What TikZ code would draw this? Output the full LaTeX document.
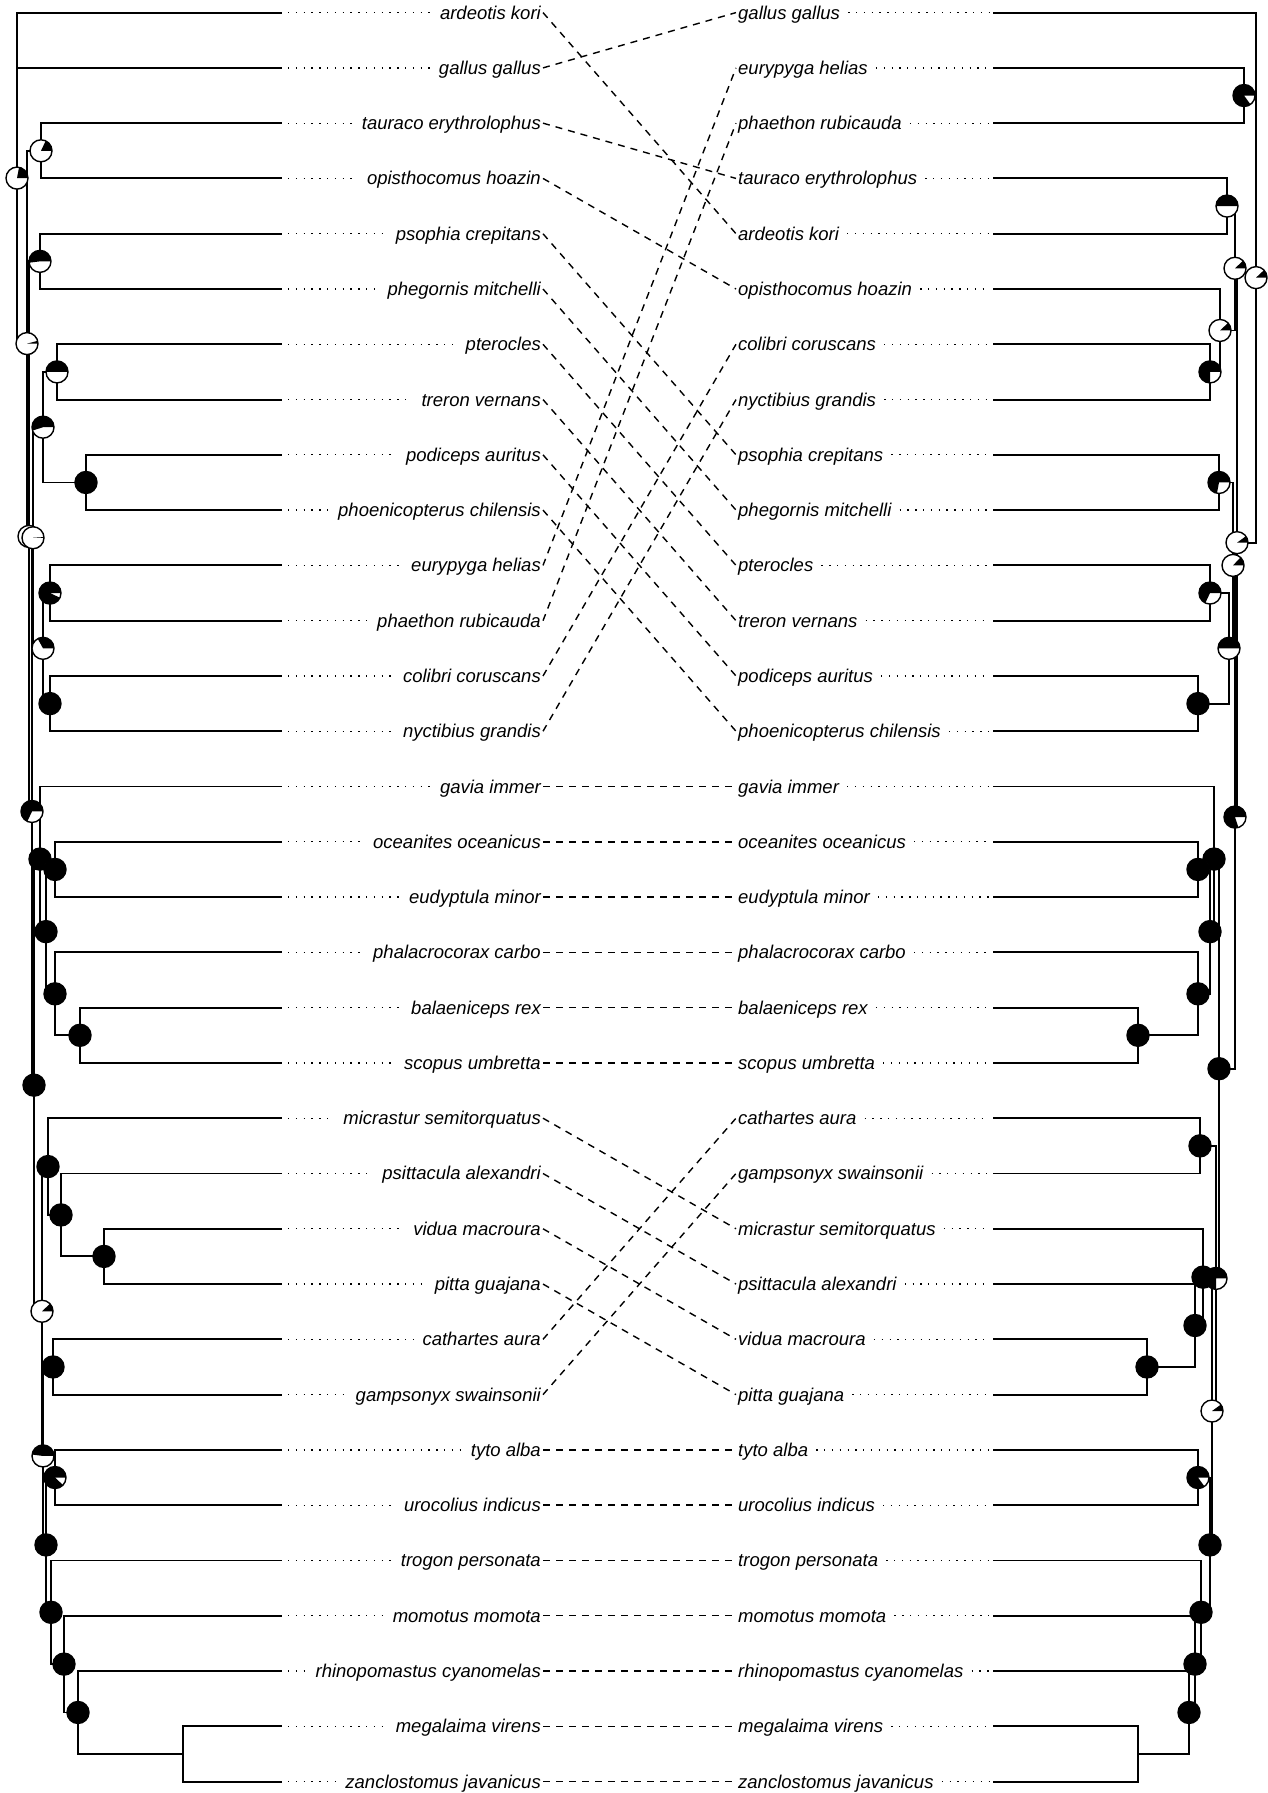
\documentclass[tikz,border=0pt]{standalone}
\usepackage{fontspec}
\setmainfont{Liberation Sans}

% pie at a tree node: black share first, counter-clockwise from east
\newcommand{\pierad}{11pt}
\newcommand{\nodepie}[2]{%
  \fill[white] (#1) circle[radius=\pierad];
  \fill[black] (#1) -- ++(0:\pierad)
    arc[start angle=0, delta angle={360*#2}, radius=\pierad] -- cycle;
  \draw[line width=1.4pt] (#1) circle[radius=\pierad];
}

\begin{document}
\begin{tikzpicture}[x=1pt, y=-1pt,
  branch/.style={line width=1.9pt},
  leader/.style={line width=1.3pt, dash pattern=on 1.3pt off 6.5pt},
  link/.style={line width=1.4pt, dash pattern=on 7pt off 6pt},
  taxon/.style={font=\fontsize{18.5}{20}\selectfont\itshape,
    inner sep=0pt, text height=13pt, text depth=0pt}]

\useasboundingbox (0,0) rectangle (1267,1793);

% ================================================================
% LEFT LEAVES AND LABELS
% ================================================================
\foreach \key/\name [count=\i from 0] in {
  ardeotis/ardeotis kori, gallus/gallus gallus,
  tauraco/tauraco erythrolophus, opisth/opisthocomus hoazin,
  psophia/psophia crepitans, phegornis/phegornis mitchelli,
  pterocles/pterocles, treron/treron vernans,
  podiceps/podiceps auritus, phoenico/phoenicopterus chilensis,
  eurypyga/eurypyga helias, phaethon/phaethon rubicauda,
  colibri/colibri coruscans, nyctibius/nyctibius grandis,
  gavia/gavia immer, oceanites/oceanites oceanicus,
  eudyptula/eudyptula minor, phalacro/phalacrocorax carbo,
  balaeni/balaeniceps rex, scopus/scopus umbretta,
  micrastur/micrastur semitorquatus, psittacula/psittacula alexandri,
  vidua/vidua macroura, pitta/pitta guajana,
  cathartes/cathartes aura, gampsonyx/gampsonyx swainsonii,
  tyto/tyto alba, urocolius/urocolius indicus,
  trogon/trogon personata, momotus/momotus momota,
  rhinopom/rhinopomastus cyanomelas, megalaima/megalaima virens,
  zanclost/zanclostomus javanicus}{
  \coordinate (l-\key) at (282,{12.6+55.28*\i});
  \node[taxon, anchor=east] (lt-\key) at (541,{12.6+55.28*\i}) {\name};
  \draw[leader] ([xshift=6pt]l-\key) -- ([xshift=-9pt]lt-\key.west);
}

% ================================================================
% RIGHT LEAVES AND LABELS
% ================================================================
\foreach \key/\name [count=\i from 0] in {
  gallus/gallus gallus, eurypyga/eurypyga helias,
  phaethon/phaethon rubicauda, tauraco/tauraco erythrolophus,
  ardeotis/ardeotis kori, opisth/opisthocomus hoazin,
  colibri/colibri coruscans, nyctibius/nyctibius grandis,
  psophia/psophia crepitans, phegornis/phegornis mitchelli,
  pterocles/pterocles, treron/treron vernans,
  podiceps/podiceps auritus, phoenico/phoenicopterus chilensis,
  gavia/gavia immer, oceanites/oceanites oceanicus,
  eudyptula/eudyptula minor, phalacro/phalacrocorax carbo,
  balaeni/balaeniceps rex, scopus/scopus umbretta,
  cathartes/cathartes aura, gampsonyx/gampsonyx swainsonii,
  micrastur/micrastur semitorquatus, psittacula/psittacula alexandri,
  vidua/vidua macroura, pitta/pitta guajana,
  tyto/tyto alba, urocolius/urocolius indicus,
  trogon/trogon personata, momotus/momotus momota,
  rhinopom/rhinopomastus cyanomelas, megalaima/megalaima virens,
  zanclost/zanclostomus javanicus}{
  \coordinate (r-\key) at (993,{12.6+55.28*\i});
  \node[taxon, anchor=west] (rt-\key) at (738,{12.6+55.28*\i}) {\name};
  \draw[leader] ([xshift=8pt]rt-\key.east) -- ([xshift=-4pt]r-\key);
}

% ================================================================
% CONNECTING LINES (same taxon on both sides)
% ================================================================
\foreach \key in {ardeotis, gallus, tauraco, opisth, psophia, phegornis,
  pterocles, treron, podiceps, phoenico, eurypyga, phaethon, colibri,
  nyctibius, gavia, oceanites, eudyptula, phalacro, balaeni, scopus,
  micrastur, psittacula, vidua, pitta, cathartes, gampsonyx, tyto,
  urocolius, trogon, momotus, rhinopom, megalaima, zanclost}
  \draw[link] ([xshift=2pt]lt-\key.east) -- ([xshift=-2pt]rt-\key.west);

% ================================================================
% LEFT TREE
% ================================================================
\coordinate (root-L)    at (17,178.1);
\coordinate (core-L)    at (27,343.6);
\coordinate (tauopi-L)  at (41,150.8);
\coordinate (neo-L)     at (29,536.41);
\coordinate (psophe-L)  at (40,261.36);
\coordinate (base-L)    at (32,811.46);
\coordinate (mid-L)     at (33,537.76);
\coordinate (ptepod-L)  at (43,427.2);
\coordinate (ptetre-L)  at (57,371.92);
\coordinate (podpho-L)  at (86,482.48);
\coordinate (eurcol-L)  at (43,648.32);
\coordinate (eurpha-L)  at (50,593.04);
\coordinate (colnyc-L)  at (50,703.6);
\coordinate (upper-L)   at (34,1085.17);
\coordinate (gavgrp-L)  at (40,859.08);
\coordinate (seabird-L) at (46,931.63);
\coordinate (oceeud-L)  at (55,869.44);
\coordinate (phabal-L)  at (55,993.82);
\coordinate (balsco-L)  at (80,1035.28);
\coordinate (land-L)    at (42,1311.25);
\coordinate (raptor-L)  at (48,1166.57);
\coordinate (psivid-L)  at (61,1214.94);
\coordinate (vidpit-L)  at (104,1256.4);
\coordinate (coracii-L) at (43,1455.93);
\coordinate (catgam-L)  at (53,1366.96);
\coordinate (picoid-L)  at (46,1544.9);
\coordinate (tyturo-L)  at (55,1477.52);
\coordinate (trg-L)     at (51,1612.27);
\coordinate (momo-L)    at (64,1664.09);
\coordinate (rhino-L)   at (78,1712.46);
\coordinate (megzan-L)  at (183,1753.92);

\foreach \p/\c in {root-L/l-ardeotis, root-L/l-gallus, root-L/core-L,
  core-L/tauopi-L, core-L/neo-L, tauopi-L/l-tauraco, tauopi-L/l-opisth,
  neo-L/psophe-L, neo-L/base-L, psophe-L/l-psophia, psophe-L/l-phegornis,
  base-L/mid-L, base-L/upper-L, mid-L/ptepod-L, mid-L/eurcol-L,
  ptepod-L/ptetre-L, ptepod-L/podpho-L, ptetre-L/l-pterocles,
  ptetre-L/l-treron, podpho-L/l-podiceps, podpho-L/l-phoenico,
  eurcol-L/eurpha-L, eurcol-L/colnyc-L, eurpha-L/l-eurypyga,
  eurpha-L/l-phaethon, colnyc-L/l-colibri, colnyc-L/l-nyctibius,
  upper-L/gavgrp-L, upper-L/land-L, gavgrp-L/l-gavia, gavgrp-L/seabird-L,
  seabird-L/oceeud-L, seabird-L/phabal-L, oceeud-L/l-oceanites,
  oceeud-L/l-eudyptula, phabal-L/l-phalacro, phabal-L/balsco-L,
  balsco-L/l-balaeni, balsco-L/l-scopus, land-L/raptor-L,
  land-L/coracii-L, raptor-L/l-micrastur, raptor-L/psivid-L,
  psivid-L/l-psittacula, psivid-L/vidpit-L, vidpit-L/l-vidua,
  vidpit-L/l-pitta, coracii-L/catgam-L, coracii-L/picoid-L,
  catgam-L/l-cathartes, catgam-L/l-gampsonyx, picoid-L/tyturo-L,
  picoid-L/trg-L, tyturo-L/l-tyto, tyturo-L/l-urocolius,
  trg-L/l-trogon, trg-L/momo-L, momo-L/l-momotus, momo-L/rhino-L,
  rhino-L/l-rhinopom, rhino-L/megzan-L, megzan-L/l-megalaima,
  megzan-L/l-zanclost}
  \draw[branch] (\p) |- (\c);

% ================================================================
% RIGHT TREE
% ================================================================
\coordinate (root-R)    at (1256,277.63);
\coordinate (eurpha-R)  at (1244,95.52);
\coordinate (inner-R)   at (1237,542.66);
\coordinate (upper-R)   at (1235,268.27);
\coordinate (tauard-R)  at (1227,206.08);
\coordinate (opicol-R)  at (1220,330.46);
\coordinate (colnyc-R)  at (1210,371.92);
\coordinate (lower-R)   at (1235,817.05);
\coordinate (psopte-R)  at (1233,565.4);
\coordinate (psophe-R)  at (1219,482.48);
\coordinate (ptepod-R)  at (1229,648.32);
\coordinate (ptetre-R)  at (1210,593.04);
\coordinate (podpho-R)  at (1198,703.6);
\coordinate (water-R)   at (1219,1068.7);
\coordinate (gavgrp-R)  at (1214,859.08);
\coordinate (seabird-R) at (1210,931.63);
\coordinate (oceeud-R)  at (1198,869.44);
\coordinate (phabal-R)  at (1198,993.82);
\coordinate (balsco-R)  at (1138,1035.28);
\coordinate (land-R)    at (1216,1278.4);
\coordinate (catgam-R)  at (1200,1145.84);
\coordinate (core-R)    at (1212,1411.0);
\coordinate (raptor-R)  at (1203,1277.13);
\coordinate (psivid-R)  at (1195,1325.5);
\coordinate (vidpit-R)  at (1147,1366.96);
\coordinate (picoid-R)  at (1210,1544.9);
\coordinate (tyturo-R)  at (1198,1477.52);
\coordinate (trg-R)     at (1201,1612.27);
\coordinate (momo-R)    at (1195,1664.09);
\coordinate (rhino-R)   at (1189,1712.46);
\coordinate (megzan-R)  at (1138,1753.92);

\foreach \p/\c in {root-R/r-gallus, root-R/eurpha-R, root-R/inner-R,
  eurpha-R/r-eurypyga, eurpha-R/r-phaethon, inner-R/upper-R,
  inner-R/lower-R, upper-R/tauard-R, upper-R/opicol-R,
  tauard-R/r-tauraco, tauard-R/r-ardeotis, opicol-R/r-opisth,
  opicol-R/colnyc-R, colnyc-R/r-colibri, colnyc-R/r-nyctibius,
  lower-R/psopte-R, lower-R/water-R, psopte-R/psophe-R,
  psopte-R/ptepod-R, psophe-R/r-psophia, psophe-R/r-phegornis,
  ptepod-R/ptetre-R, ptepod-R/podpho-R, ptetre-R/r-pterocles,
  ptetre-R/r-treron, podpho-R/r-podiceps, podpho-R/r-phoenico,
  water-R/gavgrp-R, water-R/land-R, gavgrp-R/r-gavia,
  gavgrp-R/seabird-R, seabird-R/oceeud-R, seabird-R/phabal-R,
  oceeud-R/r-oceanites, oceeud-R/r-eudyptula, phabal-R/r-phalacro,
  phabal-R/balsco-R, balsco-R/r-balaeni, balsco-R/r-scopus,
  land-R/catgam-R, land-R/core-R, catgam-R/r-cathartes,
  catgam-R/r-gampsonyx, core-R/raptor-R, core-R/picoid-R,
  raptor-R/r-micrastur, raptor-R/psivid-R, psivid-R/r-psittacula,
  psivid-R/vidpit-R, vidpit-R/r-vidua, vidpit-R/r-pitta,
  picoid-R/tyturo-R, picoid-R/trg-R, tyturo-R/r-tyto,
  tyturo-R/r-urocolius, trg-R/r-trogon, trg-R/momo-R,
  momo-R/r-momotus, momo-R/rhino-R, rhino-R/r-rhinopom,
  rhino-R/megzan-R, megzan-R/r-megalaima, megzan-R/r-zanclost}
  \draw[branch] (\p) |- (\c);

% ================================================================
% Node pies (drawn last, on top)
% ================================================================
\foreach \n/\f in {root-L/0.22, core-L/0.04, tauopi-L/0.18, neo-L/0.01,
  psophe-L/0.52, base-L/0.68, mid-L/0.01, ptepod-L/0.55, ptetre-L/0.5,
  podpho-L/1, eurcol-L/0.33, eurpha-L/0.93, colnyc-L/1, upper-L/1,
  gavgrp-L/1, seabird-L/1, oceeud-L/1, phabal-L/1, balsco-L/1,
  land-L/0.12, raptor-L/1, psivid-L/1, vidpit-L/1, coracii-L/0.48,
  catgam-L/1, picoid-L/1, tyturo-L/0.88, trg-L/1, momo-L/1, rhino-L/1}
  {\nodepie{\n}{\f}}

\foreach \n/\f in {root-R/0.12, eurpha-R/0.85, inner-R/0.1,
  upper-R/0.12, tauard-R/0.5, opicol-R/0.12, colnyc-R/0.75,
  lower-R/0.8, psopte-R/0.13, psophe-R/0.72, ptepod-R/0.5,
  ptetre-R/0.68, podpho-R/1, water-R/1, gavgrp-R/1, seabird-R/1,
  oceeud-R/1, phabal-R/1, balsco-R/1, land-R/0.75, catgam-R/1,
  core-R/0.1, raptor-R/1, psivid-R/1, vidpit-R/1, picoid-R/1,
  tyturo-R/0.85, trg-R/1, momo-R/1, rhino-R/1}
  {\nodepie{\n}{\f}}

\end{tikzpicture}
\end{document}
